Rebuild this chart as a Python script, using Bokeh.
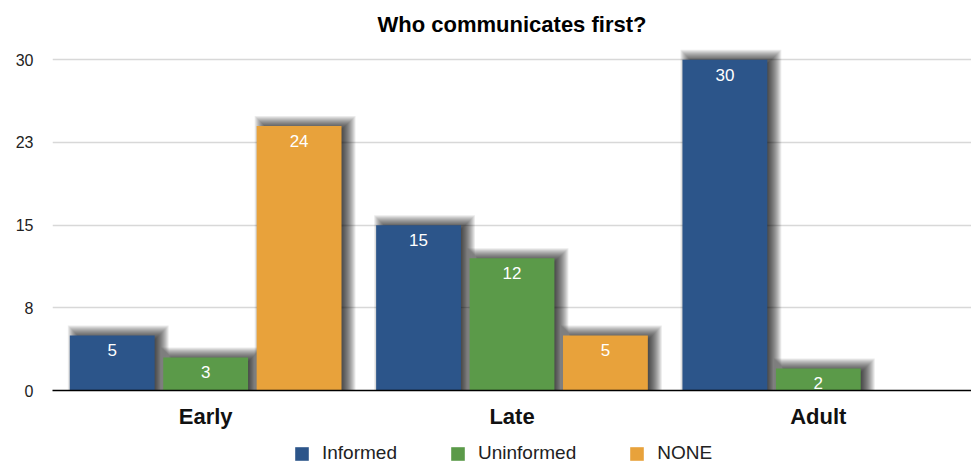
from bokeh.plotting import figure
from bokeh.layouts import column
from bokeh.models import (FactorRange, Range1d, ColumnDataSource, Legend, LegendItem,
                          FixedTicker)
from bokeh.transform import dodge
from bokeh.core.properties import value
from bokeh.embed import file_html
from bokeh.resources import INLINE

# ---- data ----
groups = ["Early", "Late", "Adult"]
series = ["Informed", "Uninformed", "NONE"]
informed = [5, 15, 30]
uninformed = [3, 12, 2]
none_vals = [24, 5, 0]
ytick_values = [0, 7.5, 15, 22.5, 30]
ytick_labels = ["0", "8", "15", "23", "30"]

colors = ["#2c558a", "#5b9a49", "#e8a23b"]
offsets = [-0.305, 0.0, 0.305]
bar_w = 0.277

W = 971
BL, BR, BT, BB = 52, 0, 45, 42
frame_w = W - BL - BR
frame_h = 345
H = BT + frame_h + BB
y_end = 31.3
px_x = len(groups) / frame_w      # factor units per pixel
px_y = y_end / frame_h            # data units per pixel

p = figure(x_range=FactorRange(*groups), y_range=Range1d(0, y_end),
           width=W, height=H,
           output_backend="svg", toolbar_location=None,
           title="Who communicates first?",
           min_border_left=BL, min_border_right=BR,
           min_border_top=BT, min_border_bottom=BB)
p.outline_line_color = None
p.background_fill_color = "white"
p.border_fill_color = "white"

p.title.align = "center"
p.title.text_font = "Liberation Sans"
p.title.text_font_size = "22px"
p.title.text_font_style = "bold"
p.title.text_color = "#000000"
p.title.standoff = 18

all_vals = [informed, uninformed, none_vals]

# soft drop shadows (stacked translucent layers), drawn first
K = 8
for vals, off in zip(all_vals, offsets):
    cats = [g for g, v in zip(groups, vals) if v > 0]
    vv = [v for v in vals if v > 0]
    for k in range(-K, K + 1):
        src = ColumnDataSource(dict(cat=cats,
                                    top=[v + (2 + k) * px_y for v in vv]))
        p.vbar(x=dodge("cat", off + 6 * px_x, range=p.x_range),
               width=bar_w + 2 * k * px_x, top="top", bottom=0, source=src,
               fill_color="black", fill_alpha=0.08, line_color=None)

for name, vals, off, col in zip(series, all_vals, offsets, colors):
    src = ColumnDataSource(dict(cat=groups, top=vals))
    p.vbar(x=dodge("cat", off, range=p.x_range), width=bar_w, top="top",
           bottom=0, source=src, fill_color=col, line_color=None)
    lcats = [g for g, v in zip(groups, vals) if v > 0]
    lv = [v for v in vals if v > 0]
    lsrc = ColumnDataSource(dict(cat=lcats, y=lv, t=[str(v) for v in lv]))
    p.text(x=dodge("cat", off, range=p.x_range), y="y", text="t", source=lsrc,
           text_align="center", text_baseline="middle", y_offset=15,
           text_color="white", text_font=value("Liberation Sans"),
           text_font_size="17px")

# axes
p.yaxis.ticker = FixedTicker(ticks=ytick_values)
p.yaxis.major_label_overrides = {t: l for t, l in zip(ytick_values, ytick_labels)}
p.yaxis.axis_line_color = None
p.yaxis.major_tick_line_color = None
p.yaxis.minor_tick_line_color = None
p.yaxis.major_tick_out = 0
p.yaxis.major_label_standoff = 19
p.yaxis.major_label_text_font = "Liberation Sans"
p.yaxis.major_label_text_font_size = "16px"
p.yaxis.major_label_text_color = "#222222"

p.xaxis.axis_line_color = "#000000"
p.xaxis.axis_line_width = 1.5
p.xaxis.major_tick_line_color = None
p.xaxis.major_tick_out = 0
p.xaxis.major_label_standoff = 13
p.xaxis.major_label_text_font = "Liberation Sans"
p.xaxis.major_label_text_font_size = "22px"
p.xaxis.major_label_text_font_style = "bold"
p.xaxis.major_label_text_color = "#111111"

p.xgrid.grid_line_color = None
p.ygrid.ticker = FixedTicker(ticks=ytick_values)
p.ygrid.grid_line_color = "#d8d8d8"
p.ygrid.grid_line_width = 1.5

# ---- legend strip below the chart ----
LH = 465 - H - 1
pl = figure(width=W, height=LH, x_range=Range1d(100, 101), y_range=Range1d(100, 101),
            x_axis_type=None, y_axis_type=None,
            output_backend="svg", toolbar_location=None,
            min_border_left=BL, min_border_right=0, min_border_top=0, min_border_bottom=0)
pl.outline_line_color = None
pl.grid.visible = False
leg_renderers = []
for name, vals, col in zip(series, all_vals, colors):
    # series bars drawn out of view; they only supply the legend swatches
    src = ColumnDataSource(dict(x=list(range(len(vals))), top=vals))
    r = pl.vbar(x="x", top="top", width=0.5, source=src,
                fill_color=col, line_color=None)
    leg_renderers.append(r)

legend = Legend(items=[LegendItem(label=s, renderers=[r]) for s, r in zip(series, leg_renderers)],
                orientation="horizontal", location=(293 - BL, 0),
                label_text_font="Liberation Sans", label_text_font_size="19px",
                label_text_color="#222222", glyph_width=17, glyph_height=17,
                label_height=17, label_standoff=12, spacing=52, padding=0, margin=0,
                border_line_color=None, background_fill_alpha=0)
pl.add_layout(legend, "center")

layout = column(p, pl, spacing=0)
open("out.html", "w").write(file_html(layout, INLINE))
